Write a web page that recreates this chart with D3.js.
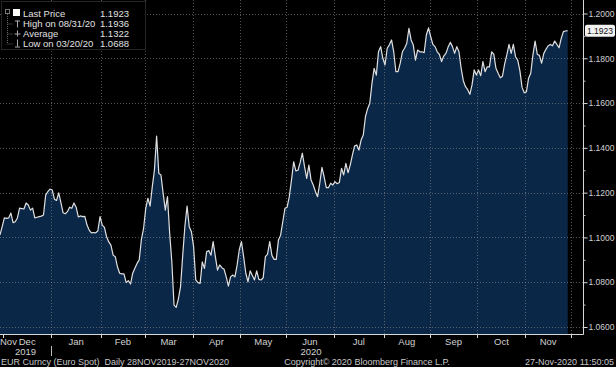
<!DOCTYPE html>
<html><head><meta charset="utf-8">
<script src="https://cdn.jsdelivr.net/npm/d3@7"></script>
<style>
html,body{margin:0;padding:0;background:#000;}
svg{display:block;}
text{font-family:"Liberation Sans",Arial,sans-serif;}
</style></head><body>
<svg id="c" width="616" height="367"></svg>
<script>
// ---- data (EUR Curncy daily close, weekdays from 28 Nov 2019) ----
const startDate = "2019-11-28";
const endCalendar = "2020-12-02";
const values = [
1.1011,1.1048,1.1087,1.1085,1.1087,1.1109,1.1066,1.1070,1.1087,1.1131,
1.1129,1.1127,1.1154,1.1145,1.1122,1.1131,1.1087,1.1090,1.1093,1.1095,
1.1100,1.1189,1.1205,1.1216,1.1212,1.1171,1.1165,1.1199,1.1155,1.1110,
1.1106,1.1115,1.1135,1.1130,1.1154,1.1135,1.1092,1.1096,1.1093,1.1094,
1.1055,1.1033,1.1020,1.1022,1.1020,1.1030,1.1093,1.1055,1.1045,1.1003,
1.0980,1.0966,1.0921,1.0914,1.0869,1.0840,1.0837,1.0837,1.0798,1.0807,
1.0792,1.0840,1.0862,1.0884,1.0900,1.0990,1.1040,1.1130,1.1175,1.1140,
1.1226,1.1301,1.1453,1.1286,1.1279,1.1197,1.1122,1.1182,1.1018,1.0890,
1.0698,1.0688,1.0725,1.0780,1.0920,1.1050,1.1140,1.1048,1.1025,1.0959,
1.0810,1.0798,1.0795,1.0891,1.0862,1.0936,1.0941,1.0921,1.0981,1.0914,
1.0854,1.0877,1.0865,1.0858,1.0824,1.0783,1.0824,1.0832,1.0824,1.0876,
1.0945,1.0981,1.0914,1.0840,1.0802,1.0851,1.0830,1.0810,1.0851,1.0813,
1.0810,1.0820,1.0914,1.0925,1.0981,1.0920,1.0902,1.0902,1.0988,1.1010,
1.1070,1.1130,1.1135,1.1182,1.1256,1.1338,1.1297,1.1300,1.1335,1.1376,
1.1316,1.1264,1.1323,1.1256,1.1234,1.1205,1.1182,1.1242,1.1313,1.1271,
1.1222,1.1222,1.1242,1.1234,1.1249,1.1240,1.1245,1.1309,1.1279,1.1331,
1.1289,1.1323,1.1368,1.1408,1.1413,1.1390,1.1435,1.1457,1.1539,1.1575,
1.1599,1.1688,1.1755,1.1725,1.1829,1.1852,1.1800,1.1770,1.1845,1.1860,
1.1882,1.1829,1.1740,1.1740,1.1778,1.1829,1.1845,1.1867,1.1934,1.1882,
1.1859,1.1792,1.1837,1.1829,1.1829,1.1825,1.1904,1.1936,1.1896,1.1862,
1.1852,1.1829,1.1817,1.1785,1.1810,1.1822,1.1850,1.1871,1.1852,1.1822,
1.1852,1.1829,1.1755,1.1700,1.1673,1.1660,1.1639,1.1681,1.1748,1.1725,
1.1748,1.1722,1.1785,1.1740,1.1762,1.1762,1.1829,1.1818,1.1755,1.1733,
1.1713,1.1720,1.1775,1.1815,1.1862,1.1822,1.1862,1.1807,1.1792,1.1745,
1.1670,1.1646,1.1650,1.1711,1.1733,1.1815,1.1877,1.1818,1.1812,1.1778,
1.1822,1.1840,1.1856,1.1862,1.1856,1.1877,1.1862,1.1847,1.1889,1.1919,
1.1922,1.1923];
const yTicks = [1.06,1.08,1.10,1.12,1.14,1.16,1.18,1.20];
const yMinorTicks = [1.07,1.09,1.11,1.13,1.15,1.17,1.19];
const monthLabels = ["Nov","Dec","Jan","Feb","Mar","Apr","May","Jun","Jul","Aug","Sep","Oct","Nov"];
const yearLabels = ["2019","2020"];
const legendLabels = ["Last Price","High on 08/31/20","Average","Low on 03/20/20"];
const legendValues = [1.1923,1.1936,1.1322,1.0688];
const footerLeft = "EUR Curncy (Euro Spot)  Daily 28NOV2019-27NOV2020";
const footerCenter = "Copyright\u00A9 2020 Bloomberg Finance L.P.";
const footerRight = "27-Nov-2020 11:50:05";

// ---- layout ----
const W = 616, H = 367;
const plotRight = 583, plotBottom = 334;
const svg = d3.select("#c");
svg.append("rect").attr("width",W).attr("height",H).attr("fill","#000");

const parse = d3.timeParse("%Y-%m-%d");
const cal = d3.timeDays(parse(startDate), parse(endCalendar)).filter(d => d.getDay() !== 0 && d.getDay() !== 6);
const data = values.map((v,i) => ({i, date: cal[i], v}));

const x = d3.scaleLinear().domain([0, 262.5]).range([0, 571]);
const y = d3.scaleLinear().domain([1.06, 1.20]).range([327, 13.5]);

// month boundaries (first weekday of each month - 0.5)
const monthStarts = d3.timeMonths(new Date(2019,11,1), new Date(2020,11,2));
const bounds = monthStarts.map(m => cal.findIndex(c => c >= m) - 0.5);

// area
svg.append("path").datum(data)
  .attr("d", d3.area().x(d => x(d.i)).y0(plotBottom).y1(d => y(d.v)))
  .attr("fill", "#0b2748");

// grid
const grid = svg.append("g").attr("stroke","#8a8a8a").attr("stroke-opacity",0.6)
  .attr("stroke-dasharray","1,2").attr("stroke-width",1);
grid.selectAll("line.h").data(yTicks).join("line").attr("class","h")
  .attr("x1",0).attr("x2",plotRight).attr("y1",d => Math.round(y(d))+0.5).attr("y2",d => Math.round(y(d))+0.5);
grid.selectAll("line.v").data(bounds.slice(1)).join("line").attr("class","v")
  .attr("x1",d => Math.round(x(d))+0.5).attr("x2",d => Math.round(x(d))+0.5).attr("y1",0).attr("y2",plotBottom);

// price line
svg.append("path").datum(data)
  .attr("d", d3.line().x(d => x(d.i)).y(d => y(d.v)))
  .attr("fill","none").attr("stroke","#e0e0e0").attr("stroke-width",1.2).attr("stroke-linejoin","round");

// frame lines
svg.append("line").attr("x1",plotRight+0.5).attr("x2",plotRight+0.5).attr("y1",0).attr("y2",plotBottom+0.5)
  .attr("stroke","#d8d8d8");
svg.append("line").attr("x1",0).attr("x2",plotRight+0.5).attr("y1",plotBottom+0.5).attr("y2",plotBottom+0.5)
  .attr("stroke","#d8d8d8");

// right axis
const yAxis = svg.append("g").attr("transform",`translate(${plotRight+0.5},0)`)
  .call(d3.axisRight(y).tickValues(yTicks).tickFormat(d3.format(".4f")).tickSize(4).tickPadding(1));
yAxis.select(".domain").remove();
yAxis.selectAll("line").attr("stroke","#d8d8d8");
yAxis.selectAll("text").attr("fill","#d0d0d0").attr("font-size",8.5).attr("font-family","Liberation Sans, Arial, sans-serif");
const yMinor = svg.append("g").attr("transform",`translate(${plotRight+0.5},0)`)
  .call(d3.axisRight(y).tickValues(yMinorTicks).tickFormat("").tickSize(2));
yMinor.select(".domain").remove();
yMinor.selectAll("line").attr("stroke","#bdbdbd");

// last price tag
const lastV = values[values.length-1];
const tag = svg.append("g").attr("transform",`translate(0,${y(lastV)})`);
tag.append("rect").attr("x",585).attr("y",-6).attr("width",30).attr("height",12).attr("rx",2).attr("fill","#f2f2f2");
tag.append("text").attr("x",600).attr("y",3).attr("text-anchor","middle").attr("font-size",8.5)
  .attr("fill","#111").text(d3.format(".4f")(lastV));

// bottom ticks at month boundaries
svg.append("g").selectAll("line").data(bounds).join("line")
  .attr("x1",d => Math.round(x(d))+0.5).attr("x2",d => Math.round(x(d))+0.5)
  .attr("y1",plotBottom).attr("y2",plotBottom+4).attr("stroke","#d8d8d8");

// month labels
const spans = monthLabels.map((m,k) => k === 0 ? [0, bounds[0]] : [bounds[k-1], bounds[k]]);
svg.append("g").selectAll("text").data(monthLabels).join("text")
  .attr("x",(d,k) => k === 0 ? 0 : (x(spans[k][0]) + x(spans[k][1]))/2)
  .attr("text-anchor",(d,k) => k === 0 ? "start" : "middle")
  .attr("y",344.5).attr("font-size",9.5).attr("fill","#d0d0d0").text(d => d);

// year labels
const yearSpans = [[0, bounds[1]], [bounds[1], bounds[bounds.length-1]]];
svg.append("g").selectAll("text").data(yearLabels).join("text")
  .attr("x",(d,k) => (x(yearSpans[k][0]) + x(yearSpans[k][1]))/2)
  .attr("text-anchor","middle").attr("y",354.5).attr("font-size",9.5).attr("fill","#d0d0d0").text(d => d);
svg.append("line").attr("x1",Math.round(x(bounds[1]))+0.5).attr("x2",Math.round(x(bounds[1]))+0.5)
  .attr("y1",346).attr("y2",356).attr("stroke","#bdbdbd");

// footer
svg.append("text").attr("x",1).attr("y",365).attr("font-size",9).attr("fill","#c8c8c8").attr("xml:space","preserve").text(footerLeft);
svg.append("text").attr("x",367).attr("y",365).attr("text-anchor","middle").attr("font-size",9).attr("fill","#c8c8c8").text(footerCenter);
svg.append("text").attr("x",614).attr("y",365).attr("text-anchor","end").attr("font-size",9).attr("fill","#c8c8c8").text(footerRight);

// legend
const lg = svg.append("g");
lg.append("rect").attr("x",1.5).attr("y",1.5).attr("width",144).attr("height",48)
  .attr("fill","#000").attr("fill-opacity",0.9).attr("stroke","#262626");
const rowY = [13, 23.5, 33.5, 43.5];
lg.append("rect").attr("x",5.5).attr("y",9.5).attr("width",4).attr("height",4).attr("fill","none").attr("stroke","#777");
lg.append("line").attr("x1",7.5).attr("x2",7.5).attr("y1",14).attr("y2",rowY[3]).attr("stroke","#666").attr("stroke-dasharray","1,1");
lg.selectAll("line.br").data(rowY.slice(1)).join("line").attr("class","br")
  .attr("x1",7.5).attr("x2",13).attr("y1",d => d+0.5).attr("y2",d => d+0.5).attr("stroke","#666").attr("stroke-dasharray","1,1");
lg.append("rect").attr("x",13).attr("y",rowY[0]-4).attr("width",7).attr("height",7).attr("fill","#fff");
const ic = lg.append("g").attr("stroke","#aaa").attr("stroke-width",1);
ic.append("line").attr("x1",17.5).attr("x2",17.5).attr("y1",rowY[1]-3).attr("y2",rowY[1]+4);
ic.append("line").attr("x1",15).attr("x2",20).attr("y1",rowY[1]-2.5).attr("y2",rowY[1]-2.5);
ic.append("line").attr("x1",17.5).attr("x2",17.5).attr("y1",rowY[2]-3).attr("y2",rowY[2]+3);
ic.append("line").attr("x1",14.5).attr("x2",20.5).attr("y1",rowY[2]+0.5).attr("y2",rowY[2]+0.5);
ic.append("line").attr("x1",17.5).attr("x2",17.5).attr("y1",rowY[3]-4).attr("y2",rowY[3]+3);
ic.append("line").attr("x1",15).attr("x2",20).attr("y1",rowY[3]+3.5).attr("y2",rowY[3]+3.5);
lg.selectAll("text.l").data(legendLabels).join("text").attr("class","l")
  .attr("x",23).attr("y",(d,k) => rowY[k]+3.5).attr("font-size",9.5).attr("fill","#e0e0e0").text(d => d);
lg.selectAll("text.v").data(legendValues).join("text").attr("class","v")
  .attr("x",129).attr("y",(d,k) => rowY[k]+3.5).attr("text-anchor","end").attr("font-size",9.5).attr("fill","#e0e0e0")
  .text(d => d3.format(".4f")(d));
</script>
</body></html>
